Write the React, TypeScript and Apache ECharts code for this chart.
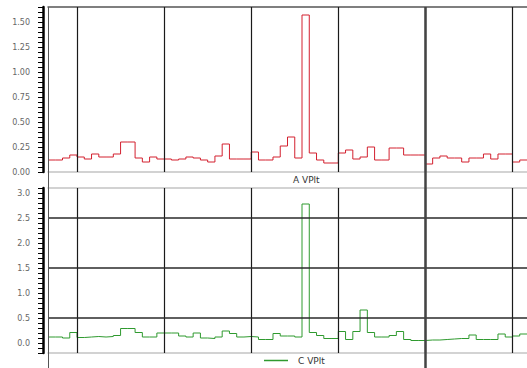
import React, { useEffect, useRef } from 'react';
import * as echarts from 'echarts';

// Long-term flicker trend, one value per interval slot (0..65)
const aVPlt = [
  0.12, 0.12, 0.14, 0.17, 0.15, 0.13, 0.18, 0.15, 0.15, 0.18,
  0.30, 0.30, 0.14, 0.10, 0.15, 0.13, 0.13, 0.12, 0.13, 0.15,
  0.14, 0.12, 0.10, 0.16, 0.28, 0.13, 0.13, 0.13, 0.20, 0.12,
  0.12, 0.15, 0.26, 0.35, 0.14, 1.57, 0.19, 0.12, 0.09, 0.09,
  0.19, 0.22, 0.13, 0.15, 0.25, 0.12, 0.12, 0.24, 0.24, 0.17,
  0.17, 0.17, 0.08, 0.14, 0.16, 0.14, 0.14, 0.10, 0.14, 0.14,
  0.18, 0.13, 0.18, 0.18, 0.10, 0.12,
];
const cVPlt = [
  0.12, 0.12, 0.10, 0.21, 0.11, 0.12, 0.13, 0.12, 0.13, 0.15,
  0.29, 0.29, 0.21, 0.12, 0.12, 0.20, 0.20, 0.20, 0.14, 0.12,
  0.20, 0.10, 0.09, 0.12, 0.24, 0.19, 0.12, 0.13, 0.12, 0.07,
  0.07, 0.19, 0.14, 0.14, 0.12, 2.78, 0.21, 0.15, 0.09, 0.09,
  0.23, 0.07, 0.23, 0.66, 0.21, 0.12, 0.12, 0.15, 0.23, 0.07,
  0.05, 0.05, 0.06, 0.06, 0.07, 0.08, 0.09, 0.09, 0.16, 0.07,
  0.07, 0.07, 0.18, 0.12, 0.14, 0.18,
];
const sectionMarks = [4, 16, 28, 40, 52, 64];
const cursorMarks = [52];
const cHorizontalMarks = [0.5, 1.5, 2.5];
const seriesNames = ['A VPlt', 'C VPlt'];

const font = 'DejaVu Sans, Verdana, sans-serif';

function stepPoints(vals: number[]) {
  const pts: number[][] = vals.map((v, i) => [i, v]);
  pts.push([vals.length, vals[vals.length - 1]]);
  return pts;
}
const isMultiple = (v: number, step: number) => Math.abs(v / step - Math.round(v / step)) < 1e-6;

function edgeAxis(gridIndex: number, position: string, color: string) {
  return {
    gridIndex,
    type: 'value',
    min: 0,
    max: 66,
    position,
    axisLine: { show: true, onZero: false, lineStyle: { color, width: 1.5 } },
    axisTick: { show: false },
    axisLabel: { show: false },
    splitLine: { show: false },
  };
}

function valueAxis(gridIndex: number, min: number, max: number, interval: number, labelStep: number, digits: number, labelMax: number) {
  return {
    gridIndex,
    type: 'value',
    min,
    max,
    interval,
    offset: 5,
    axisLine: { show: true, onZero: false, lineStyle: { color: '#000', width: 2.5 } },
    axisTick: { show: true, length: 5, lineStyle: { color: '#000', width: 1 } },
    axisLabel: {
      margin: 13,
      fontSize: 8,
      fontFamily: font,
      color: '#666',
      formatter: (v: number) =>
        isMultiple(v, labelStep) && v > -1e-9 && v < labelMax + 1e-9 ? v.toFixed(digits) : '',
    },
    splitLine: { show: false },
  };
}

const markBase = {
  silent: true,
  symbol: ['none', 'none'],
  label: { show: false },
  animation: false,
};

export default function App() {
  const ref = useRef<HTMLDivElement>(null);
  useEffect(() => {
    document.body.style.margin = '0';
    if (!ref.current) return;
    const chart = echarts.init(ref.current, null, { renderer: 'svg' });
    const option: any = {
      animation: false,
      grid: [
        { left: 48, right: 0, top: 7, height: 165 },
        { left: 48, right: 0, top: 188, height: 165 },
        { left: 48, right: 0, top: 7, bottom: 0 },
      ],
      xAxis: [
        edgeAxis(0, 'bottom', '#c4c4c4'),
        edgeAxis(0, 'top', '#555'),
        edgeAxis(1, 'bottom', '#c4c4c4'),
        edgeAxis(1, 'top', '#c4c4c4'),
        { gridIndex: 2, type: 'value', min: 0, max: 66, show: false },
      ],
      yAxis: [
        valueAxis(0, 0, 1.65, 0.05, 0.25, 2, 1.5),
        valueAxis(1, -0.2, 3.1, 0.1, 0.5, 1, 3.0),
        { gridIndex: 2, type: 'value', min: 0, max: 1, show: false },
      ],
      legend: [
        {
          data: [seriesNames[0]],
          left: 259,
          top: 175,
          padding: 0,
          icon: 'none',
          itemWidth: 24,
          itemHeight: 2,
          textStyle: { fontSize: 9, fontFamily: font, color: '#333', padding: [0, 0, 0, 5] },
        },
        {
          data: [seriesNames[1]],
          left: 264,
          top: 356,
          padding: 0,
          icon: 'rect',
          itemWidth: 24,
          itemHeight: 1.5,
          textStyle: { fontSize: 9, fontFamily: font, color: '#333', padding: [0, 0, 0, 5] },
        },
      ],
      series: [
        {
          name: seriesNames[0],
          type: 'line',
          xAxisIndex: 0,
          yAxisIndex: 0,
          step: 'end',
          data: stepPoints(aVPlt),
          showSymbol: false,
          symbol: 'none',
          lineStyle: { color: '#d3202f', width: 1 },
          itemStyle: { color: '#d3202f' },
          markLine: {
            ...markBase,
            lineStyle: { color: '#1a1a1a', width: 1.2, type: 'solid' },
            data: sectionMarks.map((x) => ({ xAxis: x })),
          },
        },
        {
          name: seriesNames[1],
          type: 'line',
          xAxisIndex: 2,
          yAxisIndex: 1,
          step: 'end',
          data: stepPoints(cVPlt),
          showSymbol: false,
          symbol: 'none',
          lineStyle: { color: '#2f9a2f', width: 1 },
          itemStyle: { color: '#2f9a2f' },
          markLine: {
            ...markBase,
            lineStyle: { color: '#1a1a1a', width: 1.2, type: 'solid' },
            data: [
              ...sectionMarks.map((x) => ({ xAxis: x })),
              ...cHorizontalMarks.map((y) => ({ yAxis: y, lineStyle: { color: '#2a2a2a', width: 1.6, type: 'solid' } })),
            ],
          },
        },
        {
          name: 'cursor',
          type: 'line',
          xAxisIndex: 4,
          yAxisIndex: 2,
          data: [],
          clip: false,
          markLine: {
            ...markBase,
            data: [
              { xAxis: 0, lineStyle: { color: '#555', width: 1, type: 'solid' } },
              ...cursorMarks.map((x) => ({ xAxis: x, lineStyle: { color: '#444', width: 2.5, type: 'solid' } })),
            ],
          },
        },
      ],
    };
    chart.setOption(option);
    return () => chart.dispose();
  }, []);
  return <div ref={ref} style={{ width: 527, height: 368 }} />;
}
